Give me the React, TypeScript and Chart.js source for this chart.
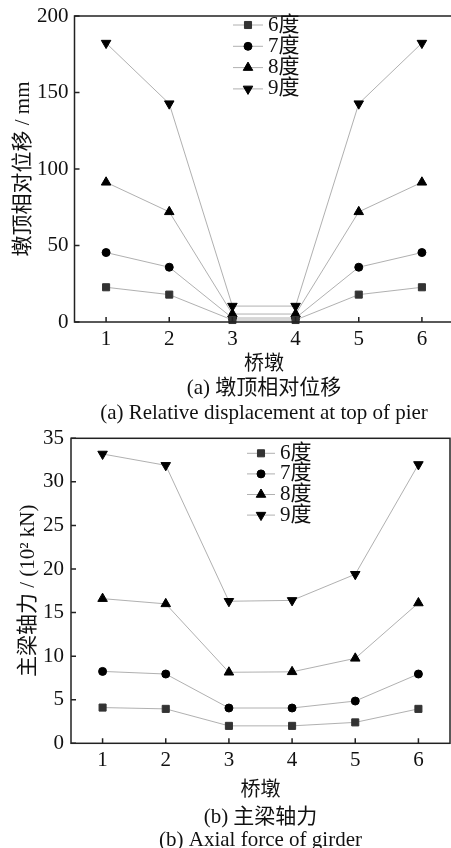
import React, { useEffect, useRef } from 'react';
import { Chart, registerables } from 'chart.js';
import { drawPoint } from 'chart.js/helpers';

Chart.register(...registerables);

// ---------- data ----------
const piers = [1, 2, 3, 4, 5, 6];
const intensities = ['6度', '7度', '8度', '9度'];

const dispTicks = [0, 50, 100, 150, 200];
const disp6 = [22.7, 17.9, 1.3, 1.3, 17.9, 22.7];
const disp7 = [45.4, 35.8, 2.6, 2.6, 35.8, 45.4];
const disp8 = [91.3, 72.0, 5.2, 5.2, 72.0, 91.3];
const disp9 = [182.3, 142.7, 10.4, 10.4, 142.7, 182.3];

const forceTicks = [0, 5, 10, 15, 20, 25, 30, 35];
const force6 = [4.1, 3.95, 2.0, 2.0, 2.4, 3.95];
const force7 = [8.25, 7.95, 4.05, 4.05, 4.85, 7.95];
const force8 = [16.6, 16.0, 8.15, 8.2, 9.75, 16.1];
const force9 = [33.2, 31.9, 16.3, 16.4, 19.4, 32.0];

const xTitle = '桥墩';
const dispYTitle = '墩顶相对位移 / mm';
const dispCaptionZh = '(a) 墩顶相对位移';
const dispCaptionEn = '(a) Relative displacement at top of pier';
const forceYTitle = '主梁轴力 / (10² kN)';
const forceCaptionZh = '(b) 主梁轴力';
const forceCaptionEn = '(b) Axial force of girder';

// ---------- styles ----------
const FONT = "'Liberation Serif', 'Noto Sans CJK SC', serif";
const TEXT = '#111';
const FRAME = '#222';
const LINE = '#9c9c9c';

const markerStyles = [
  { pointStyle: 'rect', radius: 5, rotation: 0, color: '#333' },
  { pointStyle: 'circle', radius: 4, rotation: 0, color: '#000' },
  { pointStyle: 'triangle', radius: 5.5, rotation: 0, color: '#000' },
  { pointStyle: 'triangle', radius: 5.5, rotation: 180, color: '#000' },
];

const framePlugin = {
  id: 'frameTicks',
  afterDraw(chart: any) {
    const { ctx, chartArea } = chart;
    const { left, right, top, bottom } = chartArea;
    ctx.save();
    ctx.strokeStyle = FRAME;
    ctx.lineWidth = 1.5;
    ctx.strokeRect(left, top, right - left, bottom - top);
    const tl = 5;
    ctx.beginPath();
    const xs = chart.scales.x;
    xs.ticks.forEach((t: any) => {
      const px = xs.getPixelForValue(t.value);
      ctx.moveTo(px, bottom);
      ctx.lineTo(px, bottom - tl);
    });
    const ys = chart.scales.y;
    ys.ticks.forEach((t: any) => {
      const py = ys.getPixelForValue(t.value);
      ctx.moveTo(left, py);
      ctx.lineTo(left + tl, py);
    });
    ctx.stroke();
    ctx.restore();
  },
};

const legendPlugin = {
  id: 'innerLegend',
  afterDraw(chart: any, _args: any, opts: any) {
    const { ctx, chartArea } = chart;
    const x0 = chartArea.left + opts.dx;
    ctx.save();
    chart.data.datasets.forEach((ds: any, i: number) => {
      const y = chartArea.top + opts.dy + i * opts.step;
      ctx.strokeStyle = LINE;
      ctx.lineWidth = 0.8;
      ctx.beginPath();
      ctx.moveTo(x0, y);
      ctx.lineTo(x0 + opts.len, y);
      ctx.stroke();
      ctx.fillStyle = ds.pointBackgroundColor;
      ctx.strokeStyle = ds.pointBorderColor;
      ctx.lineWidth = 1;
      drawPoint(ctx, {
        pointStyle: ds.pointStyle,
        radius: ds.pointRadius,
        rotation: ds.pointRotation,
        borderWidth: 1,
      }, x0 + opts.len / 2, y);
      ctx.fillStyle = TEXT;
      ctx.font = `21px ${FONT}`;
      ctx.textAlign = 'left';
      ctx.textBaseline = 'middle';
      ctx.fillText(ds.label, x0 + opts.len + 5, y);
    });
    ctx.restore();
  },
};

function buildConfig(p: any) {
  const series = [p.s6, p.s7, p.s8, p.s9];
  return {
    type: 'line',
    data: {
      datasets: series.map((vals: number[], i: number) => ({
        label: intensities[i],
        data: piers.map((x, j) => ({ x, y: vals[j] })),
        borderColor: LINE,
        borderWidth: 0.8,
        pointStyle: markerStyles[i].pointStyle,
        pointRadius: markerStyles[i].radius,
        pointRotation: markerStyles[i].rotation,
        pointBackgroundColor: markerStyles[i].color,
        pointBorderColor: markerStyles[i].color,
        pointBorderWidth: 1,
        pointHoverRadius: markerStyles[i].radius,
        tension: 0,
        clip: false,
      })),
    },
    options: {
      responsive: false,
      animation: false,
      devicePixelRatio: 1,
      events: [],
      layout: {
        autoPadding: false,
        padding: { top: p.padTop, right: p.padRight, left: 0, bottom: 0 },
      },
      scales: {
        x: {
          type: 'linear',
          min: 0.5,
          max: 6.5,
          afterBuildTicks: (s: any) => { s.ticks = piers.map((v) => ({ value: v })); },
          afterFit: (s: any) => {
            s.height = p.xHeight;
            s.paddingLeft = 0;
            s.paddingRight = 0;
          },
          grid: { display: false, drawTicks: false },
          border: { display: false },
          ticks: {
            color: TEXT,
            padding: p.xTickPad,
            font: { family: FONT, size: 21 },
            callback: (v: any) => String(v),
            maxRotation: 0,
          },
          title: {
            display: true,
            text: xTitle,
            color: TEXT,
            font: { family: FONT, size: 20, lineHeight: '24px' },
            padding: { top: 0, bottom: 0 },
          },
        },
        y: {
          type: 'linear',
          min: 0,
          max: p.yMax,
          afterBuildTicks: (s: any) => { s.ticks = p.yTicks.map((v: number) => ({ value: v })); },
          afterFit: (s: any) => {
            s.width = p.yWidth;
            s.paddingTop = 0;
            s.paddingBottom = 0;
          },
          grid: { display: false, drawTicks: false },
          border: { display: false },
          ticks: {
            color: TEXT,
            padding: p.yTickPad,
            font: { family: FONT, size: 21 },
            callback: (v: any) => String(v),
          },
          title: {
            display: true,
            text: p.yTitle,
            color: TEXT,
            font: { family: FONT, size: 21, lineHeight: '24px' },
            padding: { top: p.yTitlePad, bottom: 0 },
          },
        },
      },
      plugins: {
        legend: { display: false },
        tooltip: { enabled: false },
        subtitle: {
          display: true,
          position: 'bottom',
          fullSize: false,
          text: p.capZh,
          color: TEXT,
          font: { family: FONT, size: 21, lineHeight: '22px', weight: 'normal' },
          padding: { top: p.subPadTop, bottom: 0 },
        },
        title: {
          display: true,
          position: 'bottom',
          fullSize: false,
          text: p.capEn,
          color: TEXT,
          font: { family: FONT, size: 21, lineHeight: '20px', weight: 'normal' },
          padding: { top: p.titlePadTop, bottom: p.titlePadBottom },
        },
        innerLegend: p.legend,
      },
    },
    plugins: [framePlugin, legendPlugin],
  };
}

const topParams = {
  s6: disp6, s7: disp7, s8: disp8, s9: disp9,
  yTicks: dispTicks, yMax: 200, yTitle: dispYTitle,
  capZh: dispCaptionZh, capEn: dispCaptionEn,
  canvasWidth: 455, height: 424,
  padTop: 16, padRight: 1.5,
  yWidth: 74.5, yTickPad: 6, yTitlePad: 11,
  xHeight: 55, xTickPad: 5,
  subPadTop: 0, titlePadTop: 4.5, titlePadBottom: 0.5,
  legend: { dx: 158.5, dy: 9, step: 21.3, len: 30 },
};

const bottomParams = {
  s6: force6, s7: force7, s8: force8, s9: force9,
  yTicks: forceTicks, yMax: 35, yTitle: forceYTitle,
  capZh: forceCaptionZh, capEn: forceCaptionEn,
  canvasWidth: 451, height: 426,
  padTop: 14.3, padRight: 1,
  yWidth: 71, yTickPad: 7, yTitlePad: 16,
  xHeight: 59.7, xTickPad: 5,
  subPadTop: 3, titlePadTop: 2, titlePadBottom: 0,
  legend: { dx: 176, dy: 15, step: 20.6, len: 28 },
};

function LineChart({ params }: { params: any }) {
  const ref = useRef<HTMLCanvasElement>(null);
  useEffect(() => {
    const chart = new Chart(ref.current as HTMLCanvasElement, buildConfig(params) as any);
    return () => chart.destroy();
  }, [params]);
  return (
    <div style={{ width: params.canvasWidth, height: params.height, position: 'relative' }}>
      <canvas
        ref={ref}
        width={params.canvasWidth}
        height={params.height}
        style={{ display: 'block', width: params.canvasWidth, height: params.height }}
      />
    </div>
  );
}

export default function App() {
  useEffect(() => {
    document.body.style.margin = '0';
    document.body.style.background = '#fff';
  }, []);
  return (
    <div style={{ width: 451, height: 848, overflow: 'hidden', background: '#fff' }}>
      <div style={{ height: 424, overflow: 'hidden' }}>
        <LineChart params={topParams} />
      </div>
      <LineChart params={bottomParams} />
    </div>
  );
}
